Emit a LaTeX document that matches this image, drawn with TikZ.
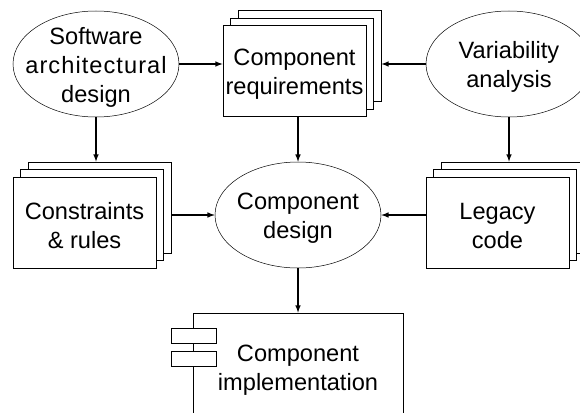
\documentclass[tikz,border=0pt]{standalone}
\usepackage{fontspec}
\setmainfont{Liberation Sans}
\usetikzlibrary{shapes.geometric}
\tikzset{
  every node/.style={font=\fontsize{23.6}{29}\selectfont, align=center},
  every label/.style={yshift=-3.3pt},
  flow/.style={draw, ellipse, fill=white, line width=0.5pt, inner sep=0pt, minimum width=166pt, minimum height=106pt},
  sheet/.style={draw, fill=white, line width=0.8pt, inner sep=0pt, minimum width=143pt, minimum height=91pt},
  part/.style={draw, fill=white, line width=0.8pt, inner sep=0pt, minimum width=45pt, minimum height=15pt},
  link/.style={->, >=latex, line width=1.5pt}
}
\begin{document}
\begin{tikzpicture}[x=1pt,y=-1pt]
\path [use as bounding box, clip] (0,0) rectangle (580,412);
% ellipses
\node [flow, label=center:{Software\\{\addfontfeature{LetterSpace=4.5}architectural}\\design}] (software) at (96,64) {};
\node [flow, label=center:{Variability\\analysis}] (variability) at (509,64) {};
\node [flow, label=center:{Component\\design}] (design) at (298,215) {};
% stacks of sheets
\foreach \nm/\x/\y/\txt in {requirements/294.5/71/{Component\\requirements},
    constraints/84.5/222.5/{Constraints\\\& rules},
    legacy/497.5/222.5/{Legacy\\code}}{
  \node [sheet] (\nm-back) at (\x+15,\y-15) {};
  \node [sheet] (\nm-mid) at (\x+7.5,\y-7.5) {};
  \node [sheet, label=center:{\txt}] (\nm) at (\x,\y) {};
}
% implementation box, open at the bottom of the page
\node [draw, fill=white, line width=0.8pt, inner sep=0pt, minimum width=210pt, minimum height=130pt] (impl) at (298,378) {};
\node (impltext) at (298,370) {Component\\implementation};
\node [part] (portone) at (193.5,335.5) {};
\node [part] (porttwo) at (193.5,358.5) {};
% arrows
\draw [link] (software.east) -- (software.east -| requirements.west);
\draw [link] (variability.west) -- (variability.west -| requirements-back.east);
\draw [link] (software.south) -- (software.south |- constraints-back.north);
\draw [link] (variability.south) -- (variability.south |- legacy-back.north);
\draw [link] (design.south) -- (design.south |- impl.north);
\draw [link] (requirements.south -| design.north) -- (design.north);
\draw [link] (design.west -| constraints-back.east) -- (design.west);
\draw [link] (design.east -| legacy.west) -- (design.east);
\end{tikzpicture}
\end{document}
